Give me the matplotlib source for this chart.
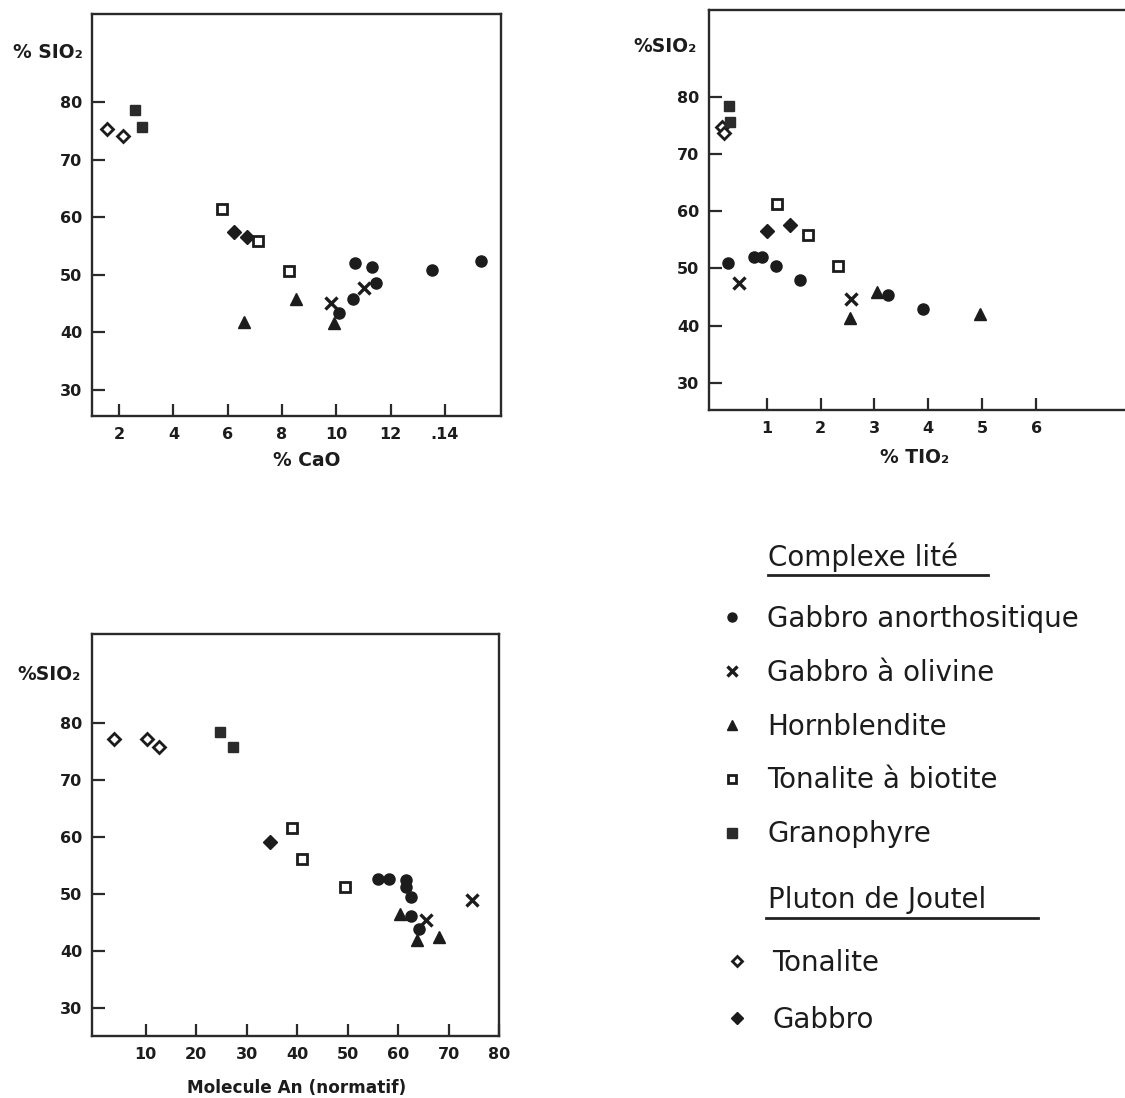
import numpy as np
import matplotlib
matplotlib.use("Agg")
import matplotlib.pyplot as plt
from matplotlib.lines import Line2D

W, H = 1125, 1098

# --- SiO2 vs CaO ---
cao_anorth = ([10.09, 10.68, 10.62, 11.32, 11.45, 13.54, 15.35], [43.3, 52.0, 45.8, 51.3, 48.6, 50.9, 52.4])
cao_olivine = ([9.82, 11.01], [45.2, 47.8])
cao_hornbl = ([6.59, 8.51, 9.91], [41.9, 45.8, 41.7])
cao_tonbio = ([5.79, 7.10, 8.26], [61.4, 55.9, 50.7])
cao_granoph = ([2.59, 2.84], [78.6, 75.6])
cao_tonalite = ([1.57, 2.16], [75.4, 74.1])
cao_gabbro = ([6.22, 6.71], [57.4, 56.6])

# --- SiO2 vs TiO2 ---
tio_anorth = ([0.28, 0.77, 0.91, 1.17, 1.62, 3.26, 3.91], [51.0, 52.0, 52.0, 50.5, 48.0, 45.4, 43.0])
tio_olivine = ([0.49, 2.56], [47.5, 44.7])
tio_hornbl = ([2.54, 3.04, 4.96], [41.4, 45.9, 42.1])
tio_tonbio = ([1.19, 1.77, 2.33], [61.3, 55.9, 50.4])
tio_granoph = ([0.30, 0.32], [78.4, 75.6])
tio_tonalite = ([0.18, 0.21], [74.6, 73.7])
tio_gabbro = ([1.01, 1.44], [56.5, 57.5])

# --- SiO2 vs An normatif ---
an_anorth = ([56.1, 58.2, 61.5, 61.5, 62.5, 62.5, 64.2], [52.6, 52.6, 52.4, 51.2, 49.4, 46.2, 43.8])
an_olivine = ([65.5, 74.6], [45.4, 49.0])
an_hornbl = ([60.4, 63.7, 68.1], [46.5, 42.0, 42.4])
an_tonbio = ([39.0, 40.9, 49.5], [61.6, 56.2, 51.2])
an_granoph = ([24.7, 27.3], [78.4, 75.8])
an_tonalite = ([3.8, 10.2, 12.7], [77.1, 77.1, 75.8])
an_gabbro = ([34.6], [59.1])

yticks = [30, 40, 50, 60, 70, 80]
cao_ticks = [2, 4, 6, 8, 10, 12, 14]
cao_labels = ["2", "4", "6", "8", "10", "12", ".14"]
tio_ticks = [1, 2, 3, 4, 5, 6]
an_ticks = [10, 20, 30, 40, 50, 60, 70, 80]

complexe_labels = ["Gabbro anorthositique", "Gabbro à olivine", "Hornblendite",
                   "Tonalite à biotite", "Granophyre"]
pluton_labels = ["Tonalite", "Gabbro"]

INK = "#1c1c1c"
styles = {
    "anorth": dict(marker="o", ms=8, mfc=INK, mec=INK, mew=1),
    "olivine": dict(marker="x", ms=8, mec=INK, mew=2.4),
    "hornbl": dict(marker="^", ms=8.5, mfc=INK, mec=INK, mew=1),
    "tonbio": dict(marker="s", ms=7, mfc="white", mec=INK, mew=2),
    "granoph": dict(marker="s", ms=7.5, mfc="#2b2b2b", mec="#2b2b2b", mew=1),
    "tonalite": dict(marker="D", ms=6.5, mfc="white", mec=INK, mew=2),
    "gabbro": dict(marker="D", ms=7, mfc=INK, mec=INK, mew=1),
}

fig = plt.figure(figsize=(W / 100, H / 100), dpi=100)


def px_axes(l, t, r, b):
    return fig.add_axes([l / W, 1 - b / H, (r - l) / W, (b - t) / H])


def style_axes(ax, xt, xl, xlim, ylim):
    ax.set_xlim(*xlim)
    ax.set_ylim(*ylim)
    for s in ax.spines.values():
        s.set_linewidth(1.7)
        s.set_color("#2a2a2a")
    ax.tick_params(direction="in", length=9, width=1.6, color="#2a2a2a", pad=7)
    ax.set_xticks(xt, xl, fontsize=11.5, fontweight="bold", color=INK)
    ax.set_yticks(yticks, [str(v) for v in yticks], fontsize=11.5, fontweight="bold", color=INK)
    ax.tick_params(axis="x", pad=8)


def draw(ax, groups):
    for key, (x, y) in groups:
        ax.plot(x, y, linestyle="none", **styles[key])


# panel 1
ax1 = px_axes(92, 14, 501, 416)
style_axes(ax1, cao_ticks, cao_labels, (1.0, 16.07), (25.5, 95.3))
draw(ax1, [("tonbio", cao_tonbio), ("granoph", cao_granoph), ("tonalite", cao_tonalite),
           ("gabbro", cao_gabbro), ("hornbl", cao_hornbl), ("olivine", cao_olivine),
           ("anorth", cao_anorth)])

# panel 2
ax2 = px_axes(709, 10, 1125, 410)
style_axes(ax2, tio_ticks, [str(v) for v in tio_ticks], (-0.07, 7.65), (25.3, 95.1))
ax2.spines["right"].set_visible(False)
draw(ax2, [("tonbio", tio_tonbio), ("tonalite", tio_tonalite), ("granoph", tio_granoph),
           ("gabbro", tio_gabbro), ("hornbl", tio_hornbl), ("olivine", tio_olivine),
           ("anorth", tio_anorth)])

# panel 3
ax3 = px_axes(92, 634, 499, 1036)
style_axes(ax3, an_ticks, [str(v) for v in an_ticks], (-0.65, 80), (25.1, 95.6))
draw(ax3, [("tonbio", an_tonbio), ("granoph", an_granoph), ("tonalite", an_tonalite),
           ("gabbro", an_gabbro), ("hornbl", an_hornbl), ("olivine", an_olivine),
           ("anorth", an_anorth)])

lab = dict(fontsize=13.5, fontweight="bold", color=INK, va="center")
fig.text(13 / W, 1 - 52 / H, "% SIO₂", ha="left", **lab)
fig.text(633 / W, 1 - 47 / H, "%SIO₂", ha="left", **lab)
fig.text(17 / W, 1 - 675 / H, "%SIO₂", ha="left", **lab)
fig.text(307 / W, 1 - 460 / H, "% CaO", ha="center", **lab)
fig.text(915 / W, 1 - 458 / H, "% TIO₂", ha="center", **lab)
fig.text(297 / W, 1 - 1088 / H, "Molecule An (normatif)", ha="center", fontsize=12.2,
         fontweight="bold", color=INK, va="center")

# legend
leg_fs = 20
hdr = dict(fontsize=leg_fs, color=INK, ha="left", va="center")
fig.text(768 / W, 1 - 557 / H, "Complexe lité", **hdr)
fig.add_artist(Line2D([768 / W, 988 / W], [1 - 575 / H, 1 - 575 / H], lw=2, color="#222"))
fig.text(768 / W, 1 - 900 / H, "Pluton de Joutel", **hdr)
fig.add_artist(Line2D([766 / W, 1038 / W], [1 - 918 / H, 1 - 918 / H], lw=2, color="#222"))

small = {"anorth": 6.5, "olivine": 7, "hornbl": 7, "tonbio": 6, "granoph": 6.5,
         "tonalite": 5.5, "gabbro": 6.5}


def handle(key):
    st = dict(styles[key])
    st["ms"] = small[key]
    return Line2D([], [], linestyle="none", **st)


h1 = [handle(k) for k in ["anorth", "olivine", "hornbl", "tonbio", "granoph"]]
h2 = [handle(k) for k in ["tonalite", "gabbro"]]
kw = dict(frameon=False, fontsize=leg_fs, handlelength=1.0, handletextpad=0.78,
          borderpad=0, borderaxespad=0, loc="upper left", labelcolor=INK)
leg1 = fig.legend(h1, complexe_labels, bbox_to_anchor=(718 / W, 1 - 605 / H),
                  labelspacing=0.93, **kw)
leg2 = fig.legend(h2, pluton_labels, bbox_to_anchor=(723 / W, 1 - 949 / H),
                  labelspacing=1.05, **kw)

fig.savefig("out.png", dpi=100)
